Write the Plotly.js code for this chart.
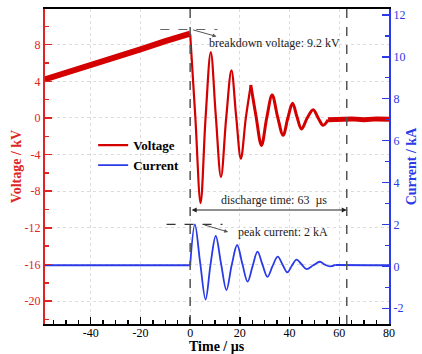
<!DOCTYPE html>
<html>
<head>
<meta charset="utf-8">
<script src="https://cdn.plot.ly/plotly-3.0.1.min.js"></script>
<style>html,body{margin:0;padding:0;background:#fff;}#chart{width:422px;height:354px;}</style>
</head>
<body>
<div id="chart"></div>
<script>
// Voltage before breakdown (kV)
const preTime = [-58.5, -50, -40, -30, -20, -10, 0];
const preVoltage = [4.2, 4.9, 5.8, 6.7, 7.5, 8.4, 9.2];
// Voltage oscillation, early part
const oscTime = [0, 2.1, 4.2, 6.2, 8.3, 10.3, 12.4, 14.5, 16.6, 18.5, 20.4, 22.4, 24.4];
const oscVoltage = [9.2, 0, -9.3, 0, 7.2, 0.3, -6.45, 0, 5.2, 0.2, -4.45, 0, 3.6];
// Voltage oscillation, late part
const midTime = [24.4, 26.5, 28.7, 30.8, 33, 35.2, 37.4, 39.3, 41.2, 43, 44.8, 47.1, 49.5, 51.5, 53.5, 55.5];
const midVoltage = [3.6, 0.2, -3.0, 0, 2.5, 0.1, -1.9, 0, 1.6, 0.1, -1.2, 0, 0.9, 0, -0.8, -0.2];
// Voltage tail
const tailTime = [55.5, 60, 65, 70, 75, 80];
const tailVoltage = [-0.2, -0.1, -0.1, -0.2, -0.1, -0.15];
// Current before breakdown (kA)
const baseTime = [-58.5, -40, -20, 0];
const baseCurrent = [0.05, 0.05, 0.05, 0.05];
// Current oscillation (kA)
const currentTime = [0, 1.9, 4.0, 6.2, 8.2, 10.3, 12.4, 14.6, 16.7, 18.9, 21, 23.1, 25.1, 27.1, 29.1, 31.1, 33.1, 35.2, 37.2, 39.1, 40.9, 42.8, 44.8, 46.8, 49.5, 52.2, 54.2, 56.2, 58.5];
const currentValue = [0.05, 2.0, 0.2, -1.58, 0.1, 1.45, 0.15, -1.13, 0.05, 1.02, 0.12, -0.73, 0.0, 0.70, 0.08, -0.5, 0.0, 0.46, 0.08, -0.28, 0.03, 0.32, 0.1, -0.13, 0.05, 0.22, 0.08, 0.0, 0.07];
// Current tail (kA)
const currentTailTime = [58.5, 65, 72, 80];
const currentTailValue = [0.07, 0.05, 0.05, 0.05];

// Tick labels
const timeTicks = [-40, -20, 0, 20, 40, 60, 80];
const timeTickText = ['-40', '-20', '0', '20', '40', '60', '80'];
const voltageTicks = [-20, -16, -12, -8, -4, 0, 4, 8];
const voltageTickText = ['-20', '-16', '-12', '-8', '-4', '0', '4', '8'];
const currentTicks = [-2, 0, 2, 4, 6, 8, 10, 12];
const currentTickText = ['-2', '0', '2', '4', '6', '8', '10', '12'];

// Annotation values
const breakdownVoltage = 9.2;
const dischargeTime = 63;
const peakCurrent = 2;

const serif = '"Liberation Serif", "Times New Roman", serif';
const red = '#d40000';
const axisRed = '#e02424';
const blue = '#2a3ae6';

const traces = [
  {x: preTime, y: preVoltage, type: 'scatter', mode: 'lines', line: {color: red, width: 6}, showlegend: false, yaxis: 'y'},
  {x: oscTime, y: oscVoltage, type: 'scatter', mode: 'lines', name: 'Voltage', line: {color: red, width: 2.2, shape: 'spline', smoothing: 1}, yaxis: 'y'},
  {x: midTime, y: midVoltage, type: 'scatter', mode: 'lines', line: {color: red, width: 3, shape: 'spline', smoothing: 1}, showlegend: false, yaxis: 'y'},
  {x: tailTime, y: tailVoltage, type: 'scatter', mode: 'lines', line: {color: red, width: 5}, showlegend: false, yaxis: 'y'},
  {x: baseTime, y: baseCurrent, type: 'scatter', mode: 'lines', line: {color: blue, width: 2}, showlegend: false, yaxis: 'y2'},
  {x: currentTime, y: currentValue, type: 'scatter', mode: 'lines', name: 'Current', line: {color: blue, width: 1.8, shape: 'spline', smoothing: 1}, yaxis: 'y2'},
  {x: currentTailTime, y: currentTailValue, type: 'scatter', mode: 'lines', line: {color: blue, width: 2}, showlegend: false, yaxis: 'y2'}
];

const layout = {
  width: 422, height: 354,
  margin: {l: 45, r: 33, t: 9, b: 30},
  paper_bgcolor: '#fff', plot_bgcolor: '#fff',
  font: {family: serif, size: 12, color: '#000'},
  xaxis: {
    range: [-58.4, 80], tickmode: 'array', tickvals: timeTicks, ticktext: timeTickText,
    ticks: 'inside', ticklen: 7, tickwidth: 1.5, tickcolor: '#000', ticklabelstandoff: -3,
    minor: {dtick: 5, tick0: 0, ticks: 'inside', ticklen: 4, tickcolor: '#000', showgrid: false},
    showline: true, linecolor: '#000', linewidth: 2, mirror: true,
    showgrid: true, gridcolor: '#dcdcdc', griddash: 'dot', gridwidth: 1,
    zeroline: false, automargin: false,
    tickfont: {family: serif, size: 12, color: '#000'}
  },
  yaxis: {
    range: [-22.5, 11.9], tickmode: 'array', tickvals: voltageTicks, ticktext: voltageTickText,
    ticks: 'inside', ticklen: 7, tickwidth: 1.5, tickcolor: axisRed,
    minor: {dtick: 2, tick0: 0, ticks: 'inside', ticklen: 4, tickcolor: axisRed, showgrid: false},
    showline: true, linecolor: axisRed, linewidth: 2,
    showgrid: true, gridcolor: '#dcdcdc', griddash: 'dot', gridwidth: 1,
    zeroline: false, automargin: false,
    tickfont: {family: serif, size: 12, color: axisRed},
    title: {text: '<b>Voltage / kV</b>', font: {family: serif, size: 14, color: axisRed}, standoff: 0}
  },
  yaxis2: {
    overlaying: 'y', side: 'right',
    range: [-2.75, 12.28], tickmode: 'array', tickvals: currentTicks, ticktext: currentTickText,
    ticks: 'inside', ticklen: 7, tickwidth: 1.5, tickcolor: blue,
    minor: {dtick: 1, tick0: 0, ticks: 'inside', ticklen: 4, tickcolor: blue},
    showline: true, linecolor: blue, linewidth: 2,
    showgrid: false, zeroline: false, automargin: false,
    tickfont: {family: serif, size: 12, color: blue},
    title: {text: '<b>Current / kA</b>', font: {family: serif, size: 14, color: blue}, standoff: 2}
  },
  legend: {
    x: 0.14, y: 0.615, xanchor: 'left', yanchor: 'top',
    bgcolor: 'rgba(0,0,0,0)', borderwidth: 0,
    font: {family: serif, size: 13, color: '#000', weight: 'bold'},
    itemwidth: 30, tracegroupgap: 0
  },
  shapes: [
    {type: 'line', xref: 'x', yref: 'paper', x0: 0, x1: 0, y0: 0, y1: 1, line: {color: '#555', width: 1.5, dash: 'dash'}},
    {type: 'line', xref: 'x', yref: 'paper', x0: dischargeTime, x1: dischargeTime, y0: 0, y1: 1, line: {color: '#555', width: 1.5, dash: 'dash'}},
    {type: 'line', xref: 'x', yref: 'y', x0: -12, x1: 11, y0: 9.66, y1: 9.66, line: {color: '#666', width: 1.2, dash: 'dash'}},
    {type: 'line', xref: 'x', yref: 'y2', x0: -9.5, x1: 13, y0: peakCurrent, y1: peakCurrent, line: {color: '#333', width: 1.2, dash: 'dash'}}
  ],
  annotations: [
    {xref: 'paper', yref: 'paper', x: 0.5, y: -0.073, xanchor: 'center', yanchor: 'middle', showarrow: false,
     text: '<b>Time / µs</b>', font: {family: serif, size: 14, color: '#000'}, borderpad: 0},
    {xref: 'x', yref: 'y', x: 6.8, y: 8.15, xanchor: 'left', yanchor: 'middle', showarrow: false,
     text: 'breakdown voltage: ' + breakdownVoltage + ' kV', font: {family: serif, size: 12, color: '#222'}},
    {xref: 'x', yref: 'y', x: 10.6, y: 8.9, axref: 'x', ayref: 'y', ax: 0.6, ay: 9.66, text: '', showarrow: true,
     arrowhead: 2, arrowsize: 0.8, arrowwidth: 1, arrowcolor: '#555'},
    {xref: 'x', yref: 'y', x: 33.8, y: -9.0, xanchor: 'center', yanchor: 'middle', showarrow: false,
     text: 'discharge time: ' + dischargeTime + '  µs', font: {family: serif, size: 12, color: '#222'}},
    {xref: 'x', yref: 'y', x: dischargeTime, y: -10.05, axref: 'x', ayref: 'y', ax: 0, ay: -10.05, text: '', showarrow: true,
     arrowhead: 2, arrowside: 'end+start', arrowsize: 1, arrowwidth: 1, arrowcolor: '#222'},
    {xref: 'x', yref: 'y2', x: 18.5, y: 1.64, xanchor: 'left', yanchor: 'middle', showarrow: false,
     text: 'peak current: ' + peakCurrent + ' kA', font: {family: serif, size: 12, color: '#222'}},
    {xref: 'x', yref: 'y2', x: 15.3, y: 1.64, axref: 'x', ayref: 'y2', ax: 5.1, ay: 2.0, text: '', showarrow: true,
     arrowhead: 2, arrowsize: 0.8, arrowwidth: 1, arrowcolor: '#555'}
  ]
};

Plotly.newPlot('chart', traces, layout, {displayModeBar: false, staticPlot: true});
</script>
</body>
</html>
